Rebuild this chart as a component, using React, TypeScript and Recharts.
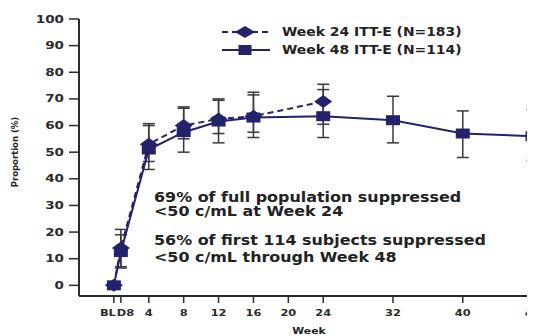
import React from 'react';
import { LineChart, Line, XAxis, YAxis, ErrorBar } from 'recharts';

// Week 24 ITT-E (N=183): proportion suppressed with CI bounds
const weeks24 = [0, 0.8, 4, 8, 12, 16, 24];
const prop24 = [0, 14, 53, 60, 62.5, 63.5, 69];
const low24 = [0, 7, 46.5, 55, 57, 57.5, 60.5];
const high24 = [0, 21, 60.7, 67, 69.5, 72.5, 75.5];

// Week 48 ITT-E (N=114)
const weeks48 = [0, 0.8, 4, 8, 12, 16, 24, 32, 40, 48];
const prop48 = [0, 12.5, 51, 57.5, 61.5, 63, 63.5, 62, 57, 56];
const low48 = [0, 6.5, 43.5, 50, 53.5, 55.5, 55.5, 53.5, 48, 47];
const high48 = [0, 19, 60, 66.5, 70, 71.5, 73.5, 71, 65.5, 66];

const xTicks = [0, 0.8, 4, 8, 12, 16, 20, 24, 32, 40, 48];
const xTickLabels = ['BL', 'D8', '4', '8', '12', '16', '20', '24', '32', '40', '48'];
const yTicks = [0, 10, 20, 30, 40, 50, 60, 70, 80, 90, 100];

const NAVY = '#24226b';
const INK = '#2b2b2b';
const FONT = '"DejaVu Sans", Verdana, sans-serif';

const buildRows = (xs: number[], ys: number[], lo: number[], hi: number[]) =>
  xs.map((week, i) => ({ week, value: ys[i], err: [ys[i] - lo[i], hi[i] - ys[i]] }));

const rows24 = buildRows(weeks24, prop24, low24, high24);
const rows48 = buildRows(weeks48, prop48, low48, high48);

const Diamond = ({ cx, cy }: any) =>
  cx == null || cy == null ? null : (
    <polygon
      points={`${cx - 9},${cy} ${cx},${cy - 6.5} ${cx + 9},${cy} ${cx},${cy + 6.5}`}
      fill={NAVY}
    />
  );

const Square = ({ cx, cy }: any) =>
  cx == null || cy == null ? null : (
    <rect x={cx - 7} y={cy - 5} width={14} height={10} fill={NAVY} />
  );

const YTick = ({ x, y, payload }: any) => (
  <g transform={`translate(${x},${y}) scale(1.35,1)`}>
    <text textAnchor="end" dy="0.35em" fontSize={10} fontWeight="bold" fontFamily={FONT} fill={INK}>
      {payload.value}
    </text>
  </g>
);

const XTick = ({ x, y, payload }: any) => {
  const idx = xTicks.indexOf(payload.value);
  const label = xTickLabels[idx];
  let anchor: 'start' | 'middle' | 'end' = 'middle';
  let dx = 0;
  if (label === 'BL') { anchor = 'end'; dx = 2; }
  if (label === 'D8') { anchor = 'start'; dx = -4; }
  return (
    <g transform={`translate(${x + dx},${y}) scale(1.2,1)`}>
      <text textAnchor={anchor} dy="0.71em" fontSize={9.5} fontWeight="bold" fontFamily={FONT} fill={INK}>
        {label}
      </text>
    </g>
  );
};

const Stretch = ({ x, y, size, children }: any) => (
  <g transform={`translate(${x},${y}) scale(1.18,1)`}>
    <text fontSize={size} fontWeight="bold" fontFamily={FONT} fill="#222">
      {children}
    </text>
  </g>
);

export default function App() {
  return (
    <div style={{ position: 'relative', width: 527, height: 328, overflow: 'hidden', background: '#fff' }}>
      <LineChart width={560} height={328} margin={{ top: 11, right: 18, bottom: 15, left: 21 }}>
        <XAxis
          dataKey="week"
          type="number"
          domain={[-4, 50]}
          ticks={xTicks}
          interval={0}
          height={25}
          tickSize={7}
          tickMargin={6}
          tick={<XTick />}
          stroke={INK}
          strokeWidth={2}
          tickLine={{ stroke: INK, strokeWidth: 1.5 }}
        />
        <YAxis
          type="number"
          domain={[-4, 100]}
          ticks={yTicks}
          interval={0}
          width={50}
          tickSize={10}
          tickMargin={5}
          tick={<YTick />}
          stroke={INK}
          strokeWidth={2}
          tickLine={{ stroke: INK, strokeWidth: 1.5 }}
        />
        <Line
          data={rows24}
          dataKey="value"
          stroke={NAVY}
          strokeWidth={2}
          strokeDasharray="6 4"
          dot={(p: any) => <Diamond key={`d-${p.index}`} cx={p.cx} cy={p.cy} />}
          activeDot={false}
          isAnimationActive={false}
        >
          <ErrorBar dataKey="err" direction="y" width={6} stroke="#3a3a3a" strokeWidth={1.5} isAnimationActive={false} />
        </Line>
        <Line
          data={rows48}
          dataKey="value"
          stroke={NAVY}
          strokeWidth={2}
          dot={(p: any) => <Square key={`s-${p.index}`} cx={p.cx} cy={p.cy} />}
          activeDot={false}
          isAnimationActive={false}
        >
          <ErrorBar dataKey="err" direction="y" width={6} stroke="#3a3a3a" strokeWidth={1.5} isAnimationActive={false} />
        </Line>
      </LineChart>
      <svg
        width={527}
        height={328}
        style={{ position: 'absolute', left: 0, top: 0, pointerEvents: 'none' }}
      >
        {/* legend */}
        <line x1={214} y1={24} x2={262} y2={24} stroke={NAVY} strokeWidth={2} strokeDasharray="6 4" />
        <polygon points="227,24 237,18 247,24 237,30" fill={NAVY} />
        <Stretch x={274} y={28} size={11.8}>Week 24 ITT-E (N=183)</Stretch>
        <line x1={214} y1={42} x2={262} y2={42} stroke={NAVY} strokeWidth={2} />
        <rect x={230.5} y={37} width={13} height={10} fill={NAVY} />
        <Stretch x={274} y={46} size={11.8}>Week 48 ITT-E (N=114)</Stretch>

        {/* annotations */}
        <Stretch x={146} y={194} size={13.5}>69% of full population suppressed</Stretch>
        <Stretch x={146} y={208} size={13.5}>&lt;50 c/mL at Week 24</Stretch>
        <Stretch x={146} y={237} size={13.5}>56% of first 114 subjects suppressed</Stretch>
        <Stretch x={146} y={254} size={13.5}>&lt;50 c/mL through Week 48</Stretch>

        {/* axis titles */}
        <g transform="translate(301,326) scale(1.2,1)">
          <text textAnchor="middle" fontSize={9} fontWeight="bold" fontFamily={FONT} fill="#222">Week</text>
        </g>
        <text
          transform="translate(10,144) rotate(-90)"
          textAnchor="middle"
          fontSize={8.5}
          fontWeight="bold"
          fontFamily={FONT}
          fill="#222"
        >
          Proportion (%)
        </text>
      </svg>
    </div>
  );
}
